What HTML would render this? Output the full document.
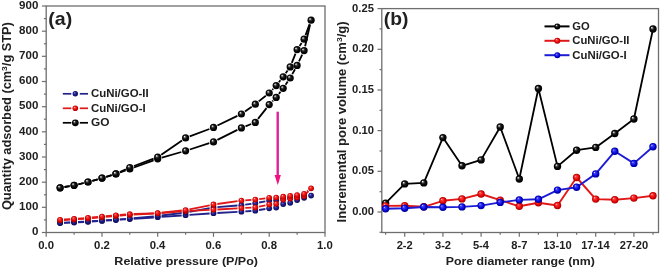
<!DOCTYPE html><html><head><meta charset="utf-8"><style>html,body{margin:0;padding:0;background:#fff;}svg{display:block;will-change:transform;}text{font-family:"Liberation Sans",sans-serif;font-weight:bold;fill:#202020;}</style></head><body><svg width="660" height="269" viewBox="0 0 660 269"><defs><radialGradient id="gk" cx="0.5" cy="0.5" r="0.5" fx="0.32" fy="0.3"><stop offset="0" stop-color="#ffffff"/><stop offset="0.14" stop-color="#b8b8b8"/><stop offset="0.34" stop-color="#383838"/><stop offset="0.6" stop-color="#0a0a0a"/><stop offset="1" stop-color="#000"/></radialGradient><radialGradient id="gn" cx="0.5" cy="0.5" r="0.5" fx="0.32" fy="0.3"><stop offset="0" stop-color="#c8c8ff"/><stop offset="0.2" stop-color="#4a4ab8"/><stop offset="0.5" stop-color="#202090"/><stop offset="1" stop-color="#0c0c58"/></radialGradient><radialGradient id="gr" cx="0.5" cy="0.5" r="0.5" fx="0.33" fy="0.3"><stop offset="0" stop-color="#ffe0e0"/><stop offset="0.22" stop-color="#ff4040"/><stop offset="0.75" stop-color="#e00000"/><stop offset="1" stop-color="#a00000"/></radialGradient><radialGradient id="gb" cx="0.5" cy="0.5" r="0.5" fx="0.33" fy="0.3"><stop offset="0" stop-color="#e0e0ff"/><stop offset="0.22" stop-color="#4040ff"/><stop offset="0.75" stop-color="#0000d0"/><stop offset="1" stop-color="#000090"/></radialGradient></defs><rect width="660" height="269" fill="#fff"/><rect x="46.2" y="6.0" width="278.8" height="226.5" fill="none" stroke="#6e6e6e" stroke-width="1.3"/><line x1="41.9" y1="232.5" x2="46.2" y2="232.5" stroke="#6e6e6e" stroke-width="1.2"/><text transform="translate(31.95,235.30) scale(1.0700,1)" font-size="10.8">0</text><line x1="43.9" y1="219.9" x2="46.2" y2="219.9" stroke="#6e6e6e" stroke-width="1.2"/><line x1="41.9" y1="207.3" x2="46.2" y2="207.3" stroke="#6e6e6e" stroke-width="1.2"/><text transform="translate(19.09,210.13) scale(1.0700,1)" font-size="10.8">100</text><line x1="43.9" y1="194.8" x2="46.2" y2="194.8" stroke="#6e6e6e" stroke-width="1.2"/><line x1="41.9" y1="182.2" x2="46.2" y2="182.2" stroke="#6e6e6e" stroke-width="1.2"/><text transform="translate(19.09,184.97) scale(1.0700,1)" font-size="10.8">200</text><line x1="43.9" y1="169.6" x2="46.2" y2="169.6" stroke="#6e6e6e" stroke-width="1.2"/><line x1="41.9" y1="157.0" x2="46.2" y2="157.0" stroke="#6e6e6e" stroke-width="1.2"/><text transform="translate(19.09,159.80) scale(1.0700,1)" font-size="10.8">300</text><line x1="43.9" y1="144.4" x2="46.2" y2="144.4" stroke="#6e6e6e" stroke-width="1.2"/><line x1="41.9" y1="131.8" x2="46.2" y2="131.8" stroke="#6e6e6e" stroke-width="1.2"/><text transform="translate(19.09,134.63) scale(1.0700,1)" font-size="10.8">400</text><line x1="43.9" y1="119.2" x2="46.2" y2="119.2" stroke="#6e6e6e" stroke-width="1.2"/><line x1="41.9" y1="106.7" x2="46.2" y2="106.7" stroke="#6e6e6e" stroke-width="1.2"/><text transform="translate(19.09,109.47) scale(1.0700,1)" font-size="10.8">500</text><line x1="43.9" y1="94.1" x2="46.2" y2="94.1" stroke="#6e6e6e" stroke-width="1.2"/><line x1="41.9" y1="81.5" x2="46.2" y2="81.5" stroke="#6e6e6e" stroke-width="1.2"/><text transform="translate(19.09,84.30) scale(1.0700,1)" font-size="10.8">600</text><line x1="43.9" y1="68.9" x2="46.2" y2="68.9" stroke="#6e6e6e" stroke-width="1.2"/><line x1="41.9" y1="56.3" x2="46.2" y2="56.3" stroke="#6e6e6e" stroke-width="1.2"/><text transform="translate(19.09,59.13) scale(1.0700,1)" font-size="10.8">700</text><line x1="43.9" y1="43.8" x2="46.2" y2="43.8" stroke="#6e6e6e" stroke-width="1.2"/><line x1="41.9" y1="31.2" x2="46.2" y2="31.2" stroke="#6e6e6e" stroke-width="1.2"/><text transform="translate(19.09,33.97) scale(1.0700,1)" font-size="10.8">800</text><line x1="43.9" y1="18.6" x2="46.2" y2="18.6" stroke="#6e6e6e" stroke-width="1.2"/><line x1="41.9" y1="6.0" x2="46.2" y2="6.0" stroke="#6e6e6e" stroke-width="1.2"/><text transform="translate(19.09,8.80) scale(1.0700,1)" font-size="10.8">900</text><line x1="46.2" y1="232.5" x2="46.2" y2="236.8" stroke="#6e6e6e" stroke-width="1.2"/><text transform="translate(38.32,249.10) scale(1.0500,1)" font-size="10.8">0.0</text><line x1="74.1" y1="232.5" x2="74.1" y2="234.8" stroke="#6e6e6e" stroke-width="1.2"/><line x1="102.0" y1="232.5" x2="102.0" y2="236.8" stroke="#6e6e6e" stroke-width="1.2"/><text transform="translate(94.08,249.10) scale(1.0500,1)" font-size="10.8">0.2</text><line x1="129.8" y1="232.5" x2="129.8" y2="234.8" stroke="#6e6e6e" stroke-width="1.2"/><line x1="157.7" y1="232.5" x2="157.7" y2="236.8" stroke="#6e6e6e" stroke-width="1.2"/><text transform="translate(149.64,249.10) scale(1.0500,1)" font-size="10.8">0.4</text><line x1="185.6" y1="232.5" x2="185.6" y2="234.8" stroke="#6e6e6e" stroke-width="1.2"/><line x1="213.5" y1="232.5" x2="213.5" y2="236.8" stroke="#6e6e6e" stroke-width="1.2"/><text transform="translate(205.57,249.10) scale(1.0500,1)" font-size="10.8">0.6</text><line x1="241.4" y1="232.5" x2="241.4" y2="234.8" stroke="#6e6e6e" stroke-width="1.2"/><line x1="269.2" y1="232.5" x2="269.2" y2="236.8" stroke="#6e6e6e" stroke-width="1.2"/><text transform="translate(261.30,249.10) scale(1.0500,1)" font-size="10.8">0.8</text><line x1="297.1" y1="232.5" x2="297.1" y2="234.8" stroke="#6e6e6e" stroke-width="1.2"/><line x1="325.0" y1="232.5" x2="325.0" y2="236.8" stroke="#6e6e6e" stroke-width="1.2"/><text transform="translate(316.99,249.10) scale(1.0500,1)" font-size="10.8">1.0</text><path d="M64.0,222.9L70.2,222.7M78.0,222.3L84.1,222.0M91.9,221.5L98.1,221.2M105.9,220.6L112.0,220.3M119.8,219.7L125.9,219.4M133.7,218.8L153.8,217.5M161.6,216.9L181.7,215.5M189.5,214.9L209.6,213.5M217.4,213.0L237.5,211.9M245.3,211.4L251.4,211.0M259.1,210.0L265.4,209.0" fill="none" stroke="#22228c" stroke-width="1.8"/><path d="M265.4,201.3L259.1,202.5M251.4,203.8L245.2,204.6M237.5,205.5L217.4,207.2M209.6,208.2L189.4,211.8M181.7,213.0L161.6,215.5M153.8,216.4L133.7,218.2M125.9,218.9L119.8,219.3M112.0,219.9L105.9,220.2M98.1,220.8L91.9,221.1M84.1,221.6L78.0,221.9M70.2,222.3L64.0,222.6" fill="none" stroke="#22228c" stroke-width="1.8"/><circle cx="60.1" cy="223.1" r="2.9" fill="url(#gn)"/><circle cx="74.1" cy="222.5" r="2.9" fill="url(#gn)"/><circle cx="88.0" cy="221.8" r="2.9" fill="url(#gn)"/><circle cx="102.0" cy="220.9" r="2.9" fill="url(#gn)"/><circle cx="115.9" cy="220.0" r="2.9" fill="url(#gn)"/><circle cx="129.8" cy="219.1" r="2.9" fill="url(#gn)"/><circle cx="157.7" cy="217.2" r="2.9" fill="url(#gn)"/><circle cx="185.6" cy="215.2" r="2.9" fill="url(#gn)"/><circle cx="213.5" cy="213.2" r="2.9" fill="url(#gn)"/><circle cx="241.4" cy="211.7" r="2.9" fill="url(#gn)"/><circle cx="255.3" cy="210.7" r="2.9" fill="url(#gn)"/><circle cx="269.2" cy="208.3" r="2.9" fill="url(#gn)"/><circle cx="276.2" cy="207.6" r="2.9" fill="url(#gn)"/><circle cx="283.2" cy="204.0" r="2.9" fill="url(#gn)"/><circle cx="290.2" cy="202.8" r="2.9" fill="url(#gn)"/><circle cx="297.1" cy="200.1" r="2.9" fill="url(#gn)"/><circle cx="304.1" cy="197.8" r="2.9" fill="url(#gn)"/><circle cx="311.1" cy="195.6" r="2.9" fill="url(#gn)"/><circle cx="304.1" cy="195.5" r="2.9" fill="url(#gn)"/><circle cx="297.1" cy="197.0" r="2.9" fill="url(#gn)"/><circle cx="290.2" cy="198.0" r="2.9" fill="url(#gn)"/><circle cx="283.2" cy="199.0" r="2.9" fill="url(#gn)"/><circle cx="276.2" cy="200.3" r="2.9" fill="url(#gn)"/><circle cx="269.2" cy="200.6" r="2.9" fill="url(#gn)"/><circle cx="255.3" cy="203.2" r="2.9" fill="url(#gn)"/><circle cx="241.4" cy="205.2" r="2.9" fill="url(#gn)"/><circle cx="213.5" cy="207.5" r="2.9" fill="url(#gn)"/><circle cx="185.6" cy="212.5" r="2.9" fill="url(#gn)"/><circle cx="157.7" cy="216.0" r="2.9" fill="url(#gn)"/><circle cx="129.8" cy="218.6" r="2.9" fill="url(#gn)"/><circle cx="115.9" cy="219.6" r="2.9" fill="url(#gn)"/><circle cx="102.0" cy="220.5" r="2.9" fill="url(#gn)"/><circle cx="88.0" cy="221.4" r="2.9" fill="url(#gn)"/><circle cx="74.1" cy="222.1" r="2.9" fill="url(#gn)"/><circle cx="60.1" cy="222.8" r="2.9" fill="url(#gn)"/><path d="M64.0,220.1L70.2,219.7M78.0,219.2L84.1,218.8M91.9,218.2L98.1,217.6M105.8,216.9L112.0,216.4M119.8,215.7L126.0,215.2M133.7,214.7L153.8,213.5M161.6,213.0L181.7,211.3M189.5,210.8L209.6,209.9M217.4,209.5L237.5,208.3M245.3,207.9L251.4,207.6M259.1,206.6L265.4,205.3M306.7,193.1L308.4,191.2" fill="none" stroke="#e01818" stroke-width="1.8"/><path d="M308.0,190.7L307.1,191.5M265.4,198.3L259.2,199.1M251.4,199.9L245.3,200.3M237.5,201.1L217.3,204.0M209.7,205.3L189.4,209.3M181.7,210.5L161.6,212.7M153.8,213.3L133.7,214.0M126.0,214.5L119.8,215.0M112.0,215.7L105.8,216.2M98.1,216.9L91.9,217.5M84.1,218.1L78.0,218.6M70.2,219.2L64.0,219.5" fill="none" stroke="#e01818" stroke-width="1.8"/><circle cx="60.1" cy="220.3" r="2.9" fill="url(#gr)"/><circle cx="74.1" cy="219.5" r="2.9" fill="url(#gr)"/><circle cx="88.0" cy="218.5" r="2.9" fill="url(#gr)"/><circle cx="102.0" cy="217.3" r="2.9" fill="url(#gr)"/><circle cx="115.9" cy="216.0" r="2.9" fill="url(#gr)"/><circle cx="129.8" cy="214.9" r="2.9" fill="url(#gr)"/><circle cx="157.7" cy="213.3" r="2.9" fill="url(#gr)"/><circle cx="185.6" cy="211.0" r="2.9" fill="url(#gr)"/><circle cx="213.5" cy="209.7" r="2.9" fill="url(#gr)"/><circle cx="241.4" cy="208.1" r="2.9" fill="url(#gr)"/><circle cx="255.3" cy="207.4" r="2.9" fill="url(#gr)"/><circle cx="269.2" cy="204.5" r="2.9" fill="url(#gr)"/><circle cx="276.2" cy="203.8" r="2.9" fill="url(#gr)"/><circle cx="283.2" cy="199.5" r="2.9" fill="url(#gr)"/><circle cx="290.2" cy="198.5" r="2.9" fill="url(#gr)"/><circle cx="297.1" cy="197.5" r="2.9" fill="url(#gr)"/><circle cx="304.1" cy="196.0" r="2.9" fill="url(#gr)"/><circle cx="311.1" cy="188.3" r="2.9" fill="url(#gr)"/><circle cx="304.1" cy="193.9" r="2.9" fill="url(#gr)"/><circle cx="297.1" cy="195.1" r="2.9" fill="url(#gr)"/><circle cx="290.2" cy="195.8" r="2.9" fill="url(#gr)"/><circle cx="283.2" cy="196.7" r="2.9" fill="url(#gr)"/><circle cx="276.2" cy="197.6" r="2.9" fill="url(#gr)"/><circle cx="269.2" cy="197.8" r="2.9" fill="url(#gr)"/><circle cx="255.3" cy="199.6" r="2.9" fill="url(#gr)"/><circle cx="241.4" cy="200.6" r="2.9" fill="url(#gr)"/><circle cx="213.5" cy="204.5" r="2.9" fill="url(#gr)"/><circle cx="185.6" cy="210.1" r="2.9" fill="url(#gr)"/><circle cx="157.7" cy="213.1" r="2.9" fill="url(#gr)"/><circle cx="129.8" cy="214.2" r="2.9" fill="url(#gr)"/><circle cx="115.9" cy="215.3" r="2.9" fill="url(#gr)"/><circle cx="102.0" cy="216.6" r="2.9" fill="url(#gr)"/><circle cx="88.0" cy="217.8" r="2.9" fill="url(#gr)"/><circle cx="74.1" cy="218.9" r="2.9" fill="url(#gr)"/><circle cx="60.1" cy="219.8" r="2.9" fill="url(#gr)"/><path d="M64.5,187.0L69.7,186.1M78.4,184.3L83.7,183.0M92.3,180.8L97.7,179.3M106.2,176.8L111.7,175.2M120.1,172.4L125.7,170.5M134.0,167.5L153.6,160.3M161.9,157.6L181.4,152.0M189.8,149.5L209.3,143.2M217.4,139.9L237.4,129.9M245.5,126.3L251.2,124.0M258.0,118.9L266.5,108.1M272.3,101.4L273.1,100.6M278.9,93.9L280.5,91.8M285.6,84.7L287.7,81.6M292.3,74.1L295.0,69.3M299.0,61.4L302.2,54.6M305.1,46.3L310.1,24.5" fill="none" stroke="#000" stroke-width="1.8"/><path d="M309.5,24.3L305.6,35.1M301.6,42.9L299.6,45.9M295.5,53.7L291.8,62.8M287.6,70.5L285.7,73.2M280.4,80.2L278.9,82.2M273.2,88.8L272.3,89.8M265.8,95.8L258.7,101.4M251.7,106.7L245.0,111.5M237.4,115.9L217.4,125.5M209.4,129.0L189.7,136.3M182.0,140.4L161.3,154.7M153.6,158.7L134.0,166.0M125.8,169.3L119.9,172.1M111.7,175.2L106.2,176.8M97.7,179.3L92.3,180.8M83.7,183.0L78.4,184.3M69.7,186.1L64.5,187.0" fill="none" stroke="#000" stroke-width="1.8"/><circle cx="60.1" cy="187.8" r="3.6" fill="url(#gk)"/><circle cx="74.1" cy="185.3" r="3.6" fill="url(#gk)"/><circle cx="88.0" cy="182.0" r="3.6" fill="url(#gk)"/><circle cx="102.0" cy="178.1" r="3.6" fill="url(#gk)"/><circle cx="115.9" cy="173.9" r="3.6" fill="url(#gk)"/><circle cx="129.8" cy="169.0" r="3.6" fill="url(#gk)"/><circle cx="157.7" cy="158.8" r="3.6" fill="url(#gk)"/><circle cx="185.6" cy="150.8" r="3.6" fill="url(#gk)"/><circle cx="213.5" cy="141.9" r="3.6" fill="url(#gk)"/><circle cx="241.4" cy="127.9" r="3.6" fill="url(#gk)"/><circle cx="255.3" cy="122.4" r="3.6" fill="url(#gk)"/><circle cx="269.2" cy="104.6" r="3.6" fill="url(#gk)"/><circle cx="276.2" cy="97.4" r="3.6" fill="url(#gk)"/><circle cx="283.2" cy="88.3" r="3.6" fill="url(#gk)"/><circle cx="290.2" cy="78.0" r="3.6" fill="url(#gk)"/><circle cx="297.1" cy="65.4" r="3.6" fill="url(#gk)"/><circle cx="304.1" cy="50.6" r="3.6" fill="url(#gk)"/><circle cx="311.1" cy="20.2" r="3.6" fill="url(#gk)"/><circle cx="304.1" cy="39.2" r="3.6" fill="url(#gk)"/><circle cx="297.1" cy="49.6" r="3.6" fill="url(#gk)"/><circle cx="290.2" cy="66.9" r="3.6" fill="url(#gk)"/><circle cx="283.2" cy="76.8" r="3.6" fill="url(#gk)"/><circle cx="276.2" cy="85.6" r="3.6" fill="url(#gk)"/><circle cx="269.2" cy="93.0" r="3.6" fill="url(#gk)"/><circle cx="255.3" cy="104.2" r="3.6" fill="url(#gk)"/><circle cx="241.4" cy="114.0" r="3.6" fill="url(#gk)"/><circle cx="213.5" cy="127.4" r="3.6" fill="url(#gk)"/><circle cx="185.6" cy="137.9" r="3.6" fill="url(#gk)"/><circle cx="157.7" cy="157.2" r="3.6" fill="url(#gk)"/><circle cx="129.8" cy="167.5" r="3.6" fill="url(#gk)"/><circle cx="115.9" cy="173.9" r="3.6" fill="url(#gk)"/><circle cx="102.0" cy="178.1" r="3.6" fill="url(#gk)"/><circle cx="88.0" cy="182.0" r="3.6" fill="url(#gk)"/><circle cx="74.1" cy="185.3" r="3.6" fill="url(#gk)"/><circle cx="60.1" cy="187.8" r="3.6" fill="url(#gk)"/><line x1="277.7" y1="111.7" x2="277.7" y2="176" stroke="#e0209a" stroke-width="2.4"/><polygon points="274.6,175 280.9,175 277.8,185" fill="#f0107f"/><text transform="translate(48.22,24.80) scale(1.0537,1)" font-size="18.6">(a)</text><line x1="62.8" y1="93.8" x2="71.3" y2="93.8" stroke="#22228c" stroke-width="1.7"/><line x1="79.8" y1="93.8" x2="88" y2="93.8" stroke="#22228c" stroke-width="1.7"/><circle cx="75.3" cy="93.8" r="2.7" fill="url(#gn)"/><text transform="translate(90.94,97.40) scale(1.1000,1)" font-size="10.4">CuNi/GO-II</text><line x1="62.8" y1="108.3" x2="71.3" y2="108.3" stroke="#e01818" stroke-width="1.7"/><line x1="79.8" y1="108.3" x2="88" y2="108.3" stroke="#e01818" stroke-width="1.7"/><circle cx="75.3" cy="108.3" r="2.8" fill="url(#gr)"/><text transform="translate(90.94,111.80) scale(1.1036,1)" font-size="10.4">CuNi/GO-I</text><line x1="62.8" y1="122.8" x2="71.3" y2="122.8" stroke="#000" stroke-width="1.7"/><line x1="79.8" y1="122.8" x2="88" y2="122.8" stroke="#000" stroke-width="1.7"/><circle cx="75.3" cy="122.8" r="3.4" fill="url(#gk)"/><text transform="translate(90.92,126.20) scale(1.1427,1)" font-size="10.4">GO</text><text transform="translate(114.36,265.00) scale(1.0590,1)" font-size="11.8">Relative pressure (P/Po)</text><text transform="translate(10.6,116.1) rotate(-90)" x="0" y="0" font-size="12" text-anchor="middle" textLength="188" lengthAdjust="spacingAndGlyphs">Quantity adsorbed (cm<tspan font-size="8" dy="-4">3</tspan><tspan dy="4">/g STP)</tspan></text><rect x="381.8" y="8.6" width="276.7" height="223.9" fill="none" stroke="#6e6e6e" stroke-width="1.3"/><line x1="379.5" y1="232.3" x2="381.8" y2="232.3" stroke="#6e6e6e" stroke-width="1.2"/><line x1="377.5" y1="212.0" x2="381.8" y2="212.0" stroke="#6e6e6e" stroke-width="1.2"/><text transform="translate(352.20,215.10) scale(1.0400,1)" font-size="10.8">0.00</text><line x1="379.5" y1="191.7" x2="381.8" y2="191.7" stroke="#6e6e6e" stroke-width="1.2"/><line x1="377.5" y1="171.3" x2="381.8" y2="171.3" stroke="#6e6e6e" stroke-width="1.2"/><text transform="translate(352.06,174.42) scale(1.0400,1)" font-size="10.8">0.05</text><line x1="379.5" y1="151.0" x2="381.8" y2="151.0" stroke="#6e6e6e" stroke-width="1.2"/><line x1="377.5" y1="130.6" x2="381.8" y2="130.6" stroke="#6e6e6e" stroke-width="1.2"/><text transform="translate(352.20,133.74) scale(1.0400,1)" font-size="10.8">0.10</text><line x1="379.5" y1="110.3" x2="381.8" y2="110.3" stroke="#6e6e6e" stroke-width="1.2"/><line x1="377.5" y1="90.0" x2="381.8" y2="90.0" stroke="#6e6e6e" stroke-width="1.2"/><text transform="translate(352.06,93.06) scale(1.0400,1)" font-size="10.8">0.15</text><line x1="379.5" y1="69.6" x2="381.8" y2="69.6" stroke="#6e6e6e" stroke-width="1.2"/><line x1="377.5" y1="49.3" x2="381.8" y2="49.3" stroke="#6e6e6e" stroke-width="1.2"/><text transform="translate(352.20,52.38) scale(1.0400,1)" font-size="10.8">0.20</text><line x1="379.5" y1="28.9" x2="381.8" y2="28.9" stroke="#6e6e6e" stroke-width="1.2"/><line x1="377.5" y1="8.6" x2="381.8" y2="8.6" stroke="#6e6e6e" stroke-width="1.2"/><text transform="translate(352.06,11.70) scale(1.0400,1)" font-size="10.8">0.25</text><line x1="385.6" y1="232.5" x2="385.6" y2="234.8" stroke="#6e6e6e" stroke-width="1.2"/><line x1="404.7" y1="232.5" x2="404.7" y2="236.8" stroke="#6e6e6e" stroke-width="1.2"/><text transform="translate(396.69,248.70) scale(1.0300,1)" font-size="10.8">2-2</text><line x1="423.8" y1="232.5" x2="423.8" y2="234.8" stroke="#6e6e6e" stroke-width="1.2"/><line x1="442.9" y1="232.5" x2="442.9" y2="236.8" stroke="#6e6e6e" stroke-width="1.2"/><text transform="translate(434.96,248.70) scale(1.0300,1)" font-size="10.8">3-2</text><line x1="462.0" y1="232.5" x2="462.0" y2="234.8" stroke="#6e6e6e" stroke-width="1.2"/><line x1="481.1" y1="232.5" x2="481.1" y2="236.8" stroke="#6e6e6e" stroke-width="1.2"/><text transform="translate(472.92,248.70) scale(1.0300,1)" font-size="10.8">5-4</text><line x1="500.2" y1="232.5" x2="500.2" y2="234.8" stroke="#6e6e6e" stroke-width="1.2"/><line x1="519.3" y1="232.5" x2="519.3" y2="236.8" stroke="#6e6e6e" stroke-width="1.2"/><text transform="translate(511.32,248.70) scale(1.0300,1)" font-size="10.8">8-7</text><line x1="538.4" y1="232.5" x2="538.4" y2="234.8" stroke="#6e6e6e" stroke-width="1.2"/><line x1="557.5" y1="232.5" x2="557.5" y2="236.8" stroke="#6e6e6e" stroke-width="1.2"/><text transform="translate(543.15,248.70) scale(1.0300,1)" font-size="10.8">13-10</text><line x1="576.6" y1="232.5" x2="576.6" y2="234.8" stroke="#6e6e6e" stroke-width="1.2"/><line x1="595.7" y1="232.5" x2="595.7" y2="236.8" stroke="#6e6e6e" stroke-width="1.2"/><text transform="translate(581.16,248.70) scale(1.0300,1)" font-size="10.8">17-14</text><line x1="614.8" y1="232.5" x2="614.8" y2="234.8" stroke="#6e6e6e" stroke-width="1.2"/><line x1="633.9" y1="232.5" x2="633.9" y2="236.8" stroke="#6e6e6e" stroke-width="1.2"/><text transform="translate(619.70,248.70) scale(1.0300,1)" font-size="10.8">27-20</text><line x1="653.0" y1="232.5" x2="653.0" y2="234.8" stroke="#6e6e6e" stroke-width="1.2"/><polyline points="385.6,203.2 404.7,183.9 423.8,182.9 442.9,137.6 462.0,165.8 481.1,159.9 500.2,127.0 519.3,179.0 538.4,88.5 557.5,166.4 576.6,150.2 595.7,147.4 614.8,133.5 633.9,119.0 653.0,29.0" fill="none" stroke="#000" stroke-width="1.8" stroke-linejoin="round"/><circle cx="385.6" cy="203.2" r="3.7" fill="url(#gk)"/><circle cx="404.7" cy="183.9" r="3.7" fill="url(#gk)"/><circle cx="423.8" cy="182.9" r="3.7" fill="url(#gk)"/><circle cx="442.9" cy="137.6" r="3.7" fill="url(#gk)"/><circle cx="462.0" cy="165.8" r="3.7" fill="url(#gk)"/><circle cx="481.1" cy="159.9" r="3.7" fill="url(#gk)"/><circle cx="500.2" cy="127.0" r="3.7" fill="url(#gk)"/><circle cx="519.3" cy="179.0" r="3.7" fill="url(#gk)"/><circle cx="538.4" cy="88.5" r="3.7" fill="url(#gk)"/><circle cx="557.5" cy="166.4" r="3.7" fill="url(#gk)"/><circle cx="576.6" cy="150.2" r="3.7" fill="url(#gk)"/><circle cx="595.7" cy="147.4" r="3.7" fill="url(#gk)"/><circle cx="614.8" cy="133.5" r="3.7" fill="url(#gk)"/><circle cx="633.9" cy="119.0" r="3.7" fill="url(#gk)"/><circle cx="653.0" cy="29.0" r="3.7" fill="url(#gk)"/><polyline points="385.6,205.9 404.7,205.7 423.8,206.8 442.9,200.8 462.0,198.9 481.1,194.0 500.2,200.2 519.3,206.3 538.4,202.7 557.5,205.5 576.6,177.5 595.7,199.1 614.8,199.8 633.9,198.1 653.0,195.7" fill="none" stroke="#e01818" stroke-width="1.9" stroke-linejoin="round"/><circle cx="385.6" cy="205.9" r="3.7" fill="url(#gr)"/><circle cx="404.7" cy="205.7" r="3.7" fill="url(#gr)"/><circle cx="423.8" cy="206.8" r="3.7" fill="url(#gr)"/><circle cx="442.9" cy="200.8" r="3.7" fill="url(#gr)"/><circle cx="462.0" cy="198.9" r="3.7" fill="url(#gr)"/><circle cx="481.1" cy="194.0" r="3.7" fill="url(#gr)"/><circle cx="500.2" cy="200.2" r="3.7" fill="url(#gr)"/><circle cx="519.3" cy="206.3" r="3.7" fill="url(#gr)"/><circle cx="538.4" cy="202.7" r="3.7" fill="url(#gr)"/><circle cx="557.5" cy="205.5" r="3.7" fill="url(#gr)"/><circle cx="576.6" cy="177.5" r="3.7" fill="url(#gr)"/><circle cx="595.7" cy="199.1" r="3.7" fill="url(#gr)"/><circle cx="614.8" cy="199.8" r="3.7" fill="url(#gr)"/><circle cx="633.9" cy="198.1" r="3.7" fill="url(#gr)"/><circle cx="653.0" cy="195.7" r="3.7" fill="url(#gr)"/><polyline points="385.6,208.7 404.7,208.2 423.8,207.0 442.9,207.3 462.0,206.9 481.1,205.6 500.2,202.4 519.3,199.9 538.4,199.3 557.5,190.1 576.6,187.2 595.7,173.9 614.8,151.3 633.9,163.4 653.0,146.7" fill="none" stroke="#1c1cd4" stroke-width="1.9" stroke-linejoin="round"/><circle cx="385.6" cy="208.7" r="3.7" fill="url(#gb)"/><circle cx="404.7" cy="208.2" r="3.7" fill="url(#gb)"/><circle cx="423.8" cy="207.0" r="3.7" fill="url(#gb)"/><circle cx="442.9" cy="207.3" r="3.7" fill="url(#gb)"/><circle cx="462.0" cy="206.9" r="3.7" fill="url(#gb)"/><circle cx="481.1" cy="205.6" r="3.7" fill="url(#gb)"/><circle cx="500.2" cy="202.4" r="3.7" fill="url(#gb)"/><circle cx="519.3" cy="199.9" r="3.7" fill="url(#gb)"/><circle cx="538.4" cy="199.3" r="3.7" fill="url(#gb)"/><circle cx="557.5" cy="190.1" r="3.7" fill="url(#gb)"/><circle cx="576.6" cy="187.2" r="3.7" fill="url(#gb)"/><circle cx="595.7" cy="173.9" r="3.7" fill="url(#gb)"/><circle cx="614.8" cy="151.3" r="3.7" fill="url(#gb)"/><circle cx="633.9" cy="163.4" r="3.7" fill="url(#gb)"/><circle cx="653.0" cy="146.7" r="3.7" fill="url(#gb)"/><text transform="translate(383.84,25.40) scale(1.0365,1)" font-size="18.6">(b)</text><line x1="544.5" y1="26.4" x2="569.5" y2="26.4" stroke="#000" stroke-width="2"/><circle cx="557.3" cy="26.4" r="3.0" fill="url(#gk)"/><text transform="translate(572.25,30.10) scale(1.0774,1)" font-size="10.4">GO</text><line x1="544.5" y1="40.8" x2="569.5" y2="40.8" stroke="#e01818" stroke-width="2"/><circle cx="557.3" cy="40.8" r="3.0" fill="url(#gr)"/><text transform="translate(572.25,44.40) scale(1.0884,1)" font-size="10.4">CuNi/GO-II</text><line x1="544.5" y1="55.2" x2="569.5" y2="55.2" stroke="#1c1cd4" stroke-width="2"/><circle cx="557.3" cy="55.2" r="3.0" fill="url(#gb)"/><text transform="translate(572.24,58.70) scale(1.0974,1)" font-size="10.4">CuNi/GO-I</text><text transform="translate(445.77,265.00) scale(1.0447,1)" font-size="11.8">Pore diameter range (nm)</text><text transform="translate(346.4,121.9) rotate(-90)" x="0" y="0" font-size="12" text-anchor="middle" textLength="201" lengthAdjust="spacingAndGlyphs">Incremental pore volume (cm<tspan font-size="8" dy="-4">3</tspan><tspan dy="4">/g)</tspan></text></svg></body></html>
